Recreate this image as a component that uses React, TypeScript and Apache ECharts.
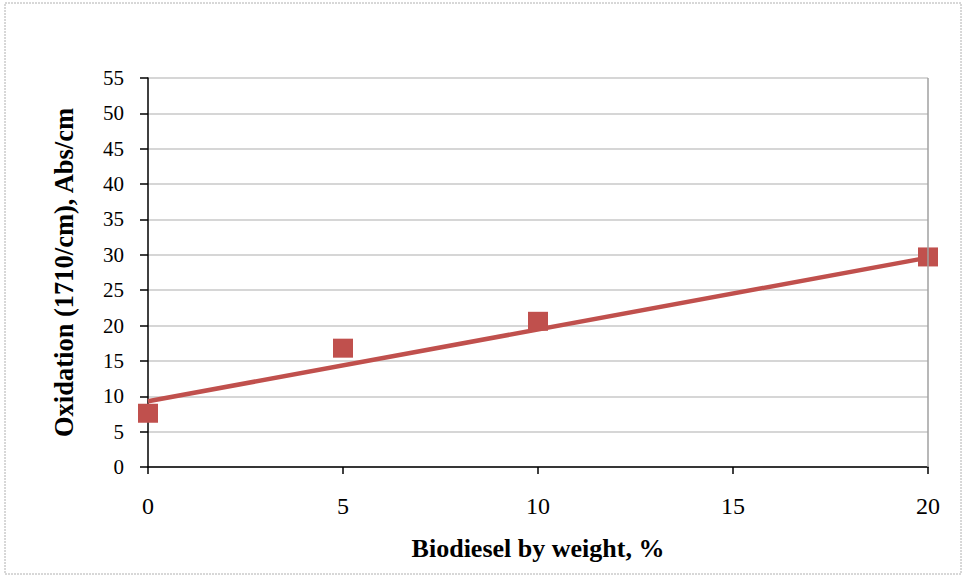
import React, { useEffect, useRef } from "react";
import * as echarts from "echarts";

const biodiesel = [0, 5, 10, 20];
const oxidation = [7.6, 16.8, 20.6, 29.7];
const trendX = [0, 20];
const trendY = [9.3, 29.6];
const xTitle = "Biodiesel by weight, %";
const yTitle = "Oxidation (1710/cm), Abs/cm";

const FONT = "'Liberation Serif', 'DejaVu Serif', serif";
const RED = "#C0504D";

export default function App() {
  const ref = useRef<HTMLDivElement>(null);
  useEffect(() => {
    if (!ref.current) return;
    const chart = echarts.init(ref.current, null, { renderer: "svg" });
    chart.setOption({
      animation: false,
      backgroundColor: "#ffffff",
      graphic: [
        {
          type: "rect",
          shape: { x: 5, y: 3, width: 956, height: 571 },
          style: { fill: "none", stroke: "#b0b0b0", lineWidth: 1, lineDash: [2, 1] },
          silent: true,
        },
      ],
      grid: { left: 148, right: 36, top: 78, bottom: 109, containLabel: false },
      xAxis: {
        type: "value",
        min: 0,
        max: 20,
        interval: 5,
        name: xTitle,
        nameLocation: "middle",
        nameGap: 68,
        nameTextStyle: { fontFamily: FONT, fontSize: 26, fontWeight: "bold", color: "#000" },
        axisLine: { show: true, onZero: false, lineStyle: { color: "#000", width: 1.5 } },
        axisTick: { show: true, length: 7, inside: false, lineStyle: { color: "#000", width: 1.5 } },
        axisLabel: { fontFamily: FONT, fontSize: 24, color: "#000", margin: 27 },
        splitLine: { show: false },
      },
      yAxis: {
        type: "value",
        min: 0,
        max: 55,
        interval: 5,
        name: yTitle,
        nameLocation: "middle",
        nameGap: 71,
        nameRotate: 90,
        nameTextStyle: { fontFamily: FONT, fontSize: 26.5, fontWeight: "bold", color: "#000" },
        axisLine: { show: true, lineStyle: { color: "#000", width: 1.5 } },
        axisTick: { show: true, length: 8, inside: false, lineStyle: { color: "#000", width: 1.5 } },
        axisLabel: { fontFamily: FONT, fontSize: 21, color: "#000", margin: 24 },
        splitLine: { show: true, lineStyle: { color: "#c8c8c8", width: 1.5 } },
      },
      series: [
        {
          type: "line",
          data: trendX.map((x, i) => [x, trendY[i]]),
          showSymbol: false,
          symbol: "none",
          lineStyle: { color: RED, width: 4.5 },
          silent: true,
          z: 2,
          markLine: {
            silent: true,
            symbol: "none",
            label: { show: false },
            lineStyle: { color: "#a0a0a0", width: 1.5, type: "solid" },
            data: [{ xAxis: 20 }],
          },
        },
        {
          type: "scatter",
          data: biodiesel.map((x, i) => [x, oxidation[i]]),
          symbol: "rect",
          symbolSize: [20, 19],
          itemStyle: { color: RED, opacity: 1 },
          z: 3,
        },
      ],
    });
    return () => chart.dispose();
  }, []);
  return (
    <div
      ref={ref}
      style={{ position: "fixed", left: 0, top: 0, width: 964, height: 576 }}
    />
  );
}
